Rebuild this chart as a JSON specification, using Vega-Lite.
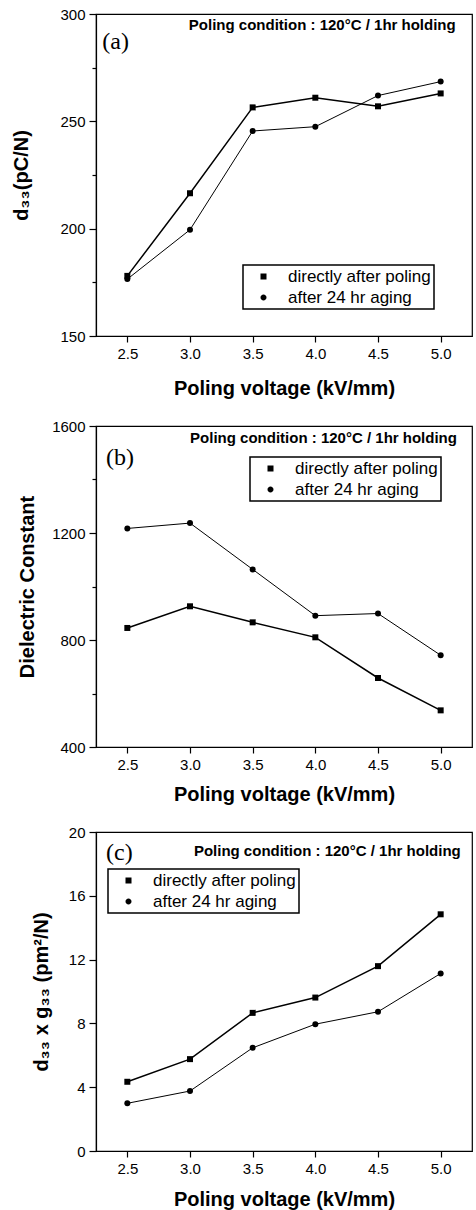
{
  "$schema": "https://vega.github.io/schema/vega-lite/v6.json",
  "background": "white",
  "padding": {"left": 10, "top": 6, "right": 0, "bottom": 0},
  "spacing": 19,
  "config": {
    "view": {"stroke": "black", "strokeWidth": 1.2},
    "font": "Liberation Sans",
    "axis": {
      "domainColor": "black", "tickColor": "black", "labelColor": "black", "titleColor": "black",
      "grid": false, "labelFont": "Liberation Sans", "titleFont": "Liberation Sans",
      "labelFontSize": 15, "titleFontSize": 20, "titleFontWeight": "bold",
      "domainWidth": 1.2, "tickWidth": 1.2, "labelPadding": 4
    },
    "legend": {
      "strokeColor": "black", "fillColor": "white",
      "padding": 3, "symbolOffset": 9, "labelOffset": 16, "symbolSize": 36,
      "labelFontSize": 17, "labelFont": "Liberation Sans", "labelColor": "black", "rowPadding": 3,
      "symbolStrokeWidth": 1, "symbolFillColor": "black", "symbolStrokeColor": "black",
      "strokeWidth": 1.5
    }
  },
  "resolve": {"scale": {"shape": "independent"}},
  "datasets": {
    "pts": [
      {"panel": "a", "series": "directly after poling", "v": 2.5, "value": 178},
      {"panel": "a", "series": "directly after poling", "v": 3.0, "value": 216.5},
      {"panel": "a", "series": "directly after poling", "v": 3.5, "value": 256.5},
      {"panel": "a", "series": "directly after poling", "v": 4.0, "value": 261},
      {"panel": "a", "series": "directly after poling", "v": 4.5, "value": 257},
      {"panel": "a", "series": "directly after poling", "v": 5.0, "value": 263},
      {"panel": "a", "series": "after 24 hr aging", "v": 2.5, "value": 176.5},
      {"panel": "a", "series": "after 24 hr aging", "v": 3.0, "value": 199.5},
      {"panel": "a", "series": "after 24 hr aging", "v": 3.5, "value": 245.5},
      {"panel": "a", "series": "after 24 hr aging", "v": 4.0, "value": 247.5},
      {"panel": "a", "series": "after 24 hr aging", "v": 4.5, "value": 262},
      {"panel": "a", "series": "after 24 hr aging", "v": 5.0, "value": 268.5},
      {"panel": "b", "series": "directly after poling", "v": 2.5, "value": 845},
      {"panel": "b", "series": "directly after poling", "v": 3.0, "value": 926},
      {"panel": "b", "series": "directly after poling", "v": 3.5, "value": 866},
      {"panel": "b", "series": "directly after poling", "v": 4.0, "value": 810},
      {"panel": "b", "series": "directly after poling", "v": 4.5, "value": 658},
      {"panel": "b", "series": "directly after poling", "v": 5.0, "value": 537},
      {"panel": "b", "series": "after 24 hr aging", "v": 2.5, "value": 1217},
      {"panel": "b", "series": "after 24 hr aging", "v": 3.0, "value": 1237},
      {"panel": "b", "series": "after 24 hr aging", "v": 3.5, "value": 1064},
      {"panel": "b", "series": "after 24 hr aging", "v": 4.0, "value": 891},
      {"panel": "b", "series": "after 24 hr aging", "v": 4.5, "value": 899},
      {"panel": "b", "series": "after 24 hr aging", "v": 5.0, "value": 743},
      {"panel": "c", "series": "directly after poling", "v": 2.5, "value": 4.34},
      {"panel": "c", "series": "directly after poling", "v": 3.0, "value": 5.76},
      {"panel": "c", "series": "directly after poling", "v": 3.5, "value": 8.66},
      {"panel": "c", "series": "directly after poling", "v": 4.0, "value": 9.62},
      {"panel": "c", "series": "directly after poling", "v": 4.5, "value": 11.59},
      {"panel": "c", "series": "directly after poling", "v": 5.0, "value": 14.84},
      {"panel": "c", "series": "after 24 hr aging", "v": 2.5, "value": 2.99},
      {"panel": "c", "series": "after 24 hr aging", "v": 3.0, "value": 3.76},
      {"panel": "c", "series": "after 24 hr aging", "v": 3.5, "value": 6.47},
      {"panel": "c", "series": "after 24 hr aging", "v": 4.0, "value": 7.95},
      {"panel": "c", "series": "after 24 hr aging", "v": 4.5, "value": 8.73},
      {"panel": "c", "series": "after 24 hr aging", "v": 5.0, "value": 11.13}
    ]
  },
  "vconcat": [
    {
      "width": 376, "height": 322,
      "layer": [
        {
          "data": {"name": "pts"},
          "transform": [{"filter": "datum.panel === 'a' && datum.series === 'directly after poling'"}],
          "mark": {"type": "line", "color": "black", "strokeWidth": 1.5, "point": {"shape": "square", "filled": true, "color": "black", "size": 36}},
          "encoding": {
            "x": {"field": "v", "type": "quantitative", "scale": {"domain": [2.25, 5.25], "nice": false, "zero": false},
              "axis": {"values": [2.5, 2.75, 3.0, 3.25, 3.5, 3.75, 4.0, 4.25, 4.5, 4.75, 5.0], "format": ".1f",
                "labelExpr": "(datum.value * 4) % 2 === 0 ? datum.label : ''",
                "tickSize": {"condition": {"test": "(datum.value * 4) % 2 !== 0", "value": 3}, "value": 6},
                "title": "Poling voltage (kV/mm)", "titlePadding": 17}},
            "y": {"field": "value", "type": "quantitative", "scale": {"domain": [150, 300], "nice": false, "zero": false},
              "axis": {"values": [150, 175, 200, 225, 250, 275, 300], "format": "d",
                "labelExpr": "datum.value % 50 === 0 ? datum.label : ''",
                "tickSize": {"condition": {"test": "datum.value % 50 !== 0", "value": 4}, "value": 7},
                "title": "d₃₃(pC/N)", "titleX": -65}}
          }
        },
        {
          "data": {"name": "pts"},
          "transform": [{"filter": "datum.panel === 'a' && datum.series === 'after 24 hr aging'"}],
          "mark": {"type": "line", "color": "black", "strokeWidth": 1, "point": {"shape": "circle", "filled": true, "color": "black", "size": 36}},
          "encoding": {
            "x": {"field": "v", "type": "quantitative"},
            "y": {"field": "value", "type": "quantitative"}
          }
        },
        {
          "data": {"name": "pts"},
          "transform": [{"filter": "datum.panel === 'none'"}],
          "mark": {"type": "point", "filled": true, "fill": "black", "stroke": "black", "strokeWidth": 1, "opacity": 1, "size": 36},
          "encoding": {
            "x": {"field": "v", "type": "quantitative"},
            "y": {"field": "value", "type": "quantitative"},
            "shape": {"field": "series", "type": "nominal",
              "scale": {"domain": ["directly after poling", "after 24 hr aging"], "range": ["M-6.7,0H6.7M-1,-1H1V1H-1Z", "M-6.7,0H6.7M1,0A1,1,0,1,1,-1,0A1,1,0,1,1,1,0Z"]},
              "legend": {"title": null, "orient": "none", "legendX": 147, "legendY": 251}}
          }
        },
        {
          "data": {"values": [{}]},
          "mark": {"type": "text", "text": "Poling condition : 120°C / 1hr holding", "align": "right", "baseline": "middle", "font": "Liberation Sans", "fontWeight": "bold", "fontSize": 15, "color": "black"},
          "encoding": {"x": {"datum": 5.12, "type": "quantitative"}, "y": {"datum": 294.9, "type": "quantitative"}}
        },
        {
          "data": {"values": [{}]},
          "mark": {"type": "text", "text": "(a)", "align": "left", "baseline": "middle", "font": "Liberation Serif", "fontSize": 24, "color": "black"},
          "encoding": {"x": {"datum": 2.3, "type": "quantitative"}, "y": {"datum": 287, "type": "quantitative"}}
        }
      ]
    },
    {
      "width": 376, "height": 321,
      "layer": [
        {
          "data": {"name": "pts"},
          "transform": [{"filter": "datum.panel === 'b' && datum.series === 'directly after poling'"}],
          "mark": {"type": "line", "color": "black", "strokeWidth": 1.5, "point": {"shape": "square", "filled": true, "color": "black", "size": 36}},
          "encoding": {
            "x": {"field": "v", "type": "quantitative", "scale": {"domain": [2.25, 5.25], "nice": false, "zero": false},
              "axis": {"values": [2.5, 2.75, 3.0, 3.25, 3.5, 3.75, 4.0, 4.25, 4.5, 4.75, 5.0], "format": ".1f",
                "labelExpr": "(datum.value * 4) % 2 === 0 ? datum.label : ''",
                "tickSize": {"condition": {"test": "(datum.value * 4) % 2 !== 0", "value": 3}, "value": 6},
                "title": "Poling voltage (kV/mm)", "titlePadding": 12}},
            "y": {"field": "value", "type": "quantitative", "scale": {"domain": [400, 1600], "nice": false, "zero": false},
              "axis": {"values": [400, 600, 800, 1000, 1200, 1400, 1600], "format": "d",
                "labelExpr": "datum.value % 400 === 0 ? datum.label : ''",
                "tickSize": {"condition": {"test": "datum.value % 400 !== 0", "value": 4}, "value": 7},
                "title": "Dielectric Constant", "titleX": -59}}
          }
        },
        {
          "data": {"name": "pts"},
          "transform": [{"filter": "datum.panel === 'b' && datum.series === 'after 24 hr aging'"}],
          "mark": {"type": "line", "color": "black", "strokeWidth": 1, "point": {"shape": "circle", "filled": true, "color": "black", "size": 36}},
          "encoding": {
            "x": {"field": "v", "type": "quantitative"},
            "y": {"field": "value", "type": "quantitative"}
          }
        },
        {
          "data": {"name": "pts"},
          "transform": [{"filter": "datum.panel === 'none'"}],
          "mark": {"type": "point", "filled": true, "fill": "black", "stroke": "black", "strokeWidth": 1, "opacity": 1, "size": 36},
          "encoding": {
            "x": {"field": "v", "type": "quantitative"},
            "y": {"field": "value", "type": "quantitative"},
            "shape": {"field": "series", "type": "nominal",
              "scale": {"domain": ["directly after poling", "after 24 hr aging"], "range": ["M-6.7,0H6.7M-1,-1H1V1H-1Z", "M-6.7,0H6.7M1,0A1,1,0,1,1,-1,0A1,1,0,1,1,1,0Z"]},
              "legend": {"title": null, "orient": "none", "legendX": 154, "legendY": 31}}
          }
        },
        {
          "data": {"values": [{}]},
          "mark": {"type": "text", "text": "Poling condition : 120°C / 1hr holding", "align": "right", "baseline": "middle", "font": "Liberation Sans", "fontWeight": "bold", "fontSize": 15, "color": "black"},
          "encoding": {"x": {"datum": 5.13, "type": "quantitative"}, "y": {"datum": 1555, "type": "quantitative"}}
        },
        {
          "data": {"values": [{}]},
          "mark": {"type": "text", "text": "(b)", "align": "left", "baseline": "middle", "font": "Liberation Serif", "fontSize": 24, "color": "black"},
          "encoding": {"x": {"datum": 2.33, "type": "quantitative"}, "y": {"datum": 1480, "type": "quantitative"}}
        }
      ]
    },
    {
      "width": 376, "height": 319,
      "layer": [
        {
          "data": {"name": "pts"},
          "transform": [{"filter": "datum.panel === 'c' && datum.series === 'directly after poling'"}],
          "mark": {"type": "line", "color": "black", "strokeWidth": 1.5, "point": {"shape": "square", "filled": true, "color": "black", "size": 36}},
          "encoding": {
            "x": {"field": "v", "type": "quantitative", "scale": {"domain": [2.25, 5.25], "nice": false, "zero": false},
              "axis": {"values": [2.5, 2.75, 3.0, 3.25, 3.5, 3.75, 4.0, 4.25, 4.5, 4.75, 5.0], "format": ".1f",
                "labelExpr": "(datum.value * 4) % 2 === 0 ? datum.label : ''",
                "tickSize": {"condition": {"test": "(datum.value * 4) % 2 !== 0", "value": 3}, "value": 6},
                "title": "Poling voltage (kV/mm)", "titlePadding": 13}},
            "y": {"field": "value", "type": "quantitative", "scale": {"domain": [0, 20], "nice": false, "zero": false},
              "axis": {"values": [0, 2, 4, 6, 8, 10, 12, 14, 16, 18, 20], "format": "d",
                "labelExpr": "datum.value % 4 === 0 ? datum.label : ''",
                "tickSize": {"condition": {"test": "datum.value % 4 !== 0", "value": 4}, "value": 7},
                "title": "d₃₃ x g₃₃ (pm²/N)", "titleX": -45}}
          }
        },
        {
          "data": {"name": "pts"},
          "transform": [{"filter": "datum.panel === 'c' && datum.series === 'after 24 hr aging'"}],
          "mark": {"type": "line", "color": "black", "strokeWidth": 1, "point": {"shape": "circle", "filled": true, "color": "black", "size": 36}},
          "encoding": {
            "x": {"field": "v", "type": "quantitative"},
            "y": {"field": "value", "type": "quantitative"}
          }
        },
        {
          "data": {"name": "pts"},
          "transform": [{"filter": "datum.panel === 'none'"}],
          "mark": {"type": "point", "filled": true, "fill": "black", "stroke": "black", "strokeWidth": 1, "opacity": 1, "size": 36},
          "encoding": {
            "x": {"field": "v", "type": "quantitative"},
            "y": {"field": "value", "type": "quantitative"},
            "shape": {"field": "series", "type": "nominal",
              "scale": {"domain": ["directly after poling", "after 24 hr aging"], "range": ["M-6.7,0H6.7M-1,-1H1V1H-1Z", "M-6.7,0H6.7M1,0A1,1,0,1,1,-1,0A1,1,0,1,1,1,0Z"]},
              "legend": {"title": null, "orient": "none", "legendX": 12, "legendY": 37}}
          }
        },
        {
          "data": {"values": [{}]},
          "mark": {"type": "text", "text": "Poling condition : 120°C / 1hr holding", "align": "right", "baseline": "middle", "font": "Liberation Sans", "fontWeight": "bold", "fontSize": 15, "color": "black"},
          "encoding": {"x": {"datum": 5.16, "type": "quantitative"}, "y": {"datum": 18.8, "type": "quantitative"}}
        },
        {
          "data": {"values": [{}]},
          "mark": {"type": "text", "text": "(c)", "align": "left", "baseline": "middle", "font": "Liberation Serif", "fontSize": 24, "color": "black"},
          "encoding": {"x": {"datum": 2.33, "type": "quantitative"}, "y": {"datum": 18.7, "type": "quantitative"}}
        }
      ]
    }
  ]
}
